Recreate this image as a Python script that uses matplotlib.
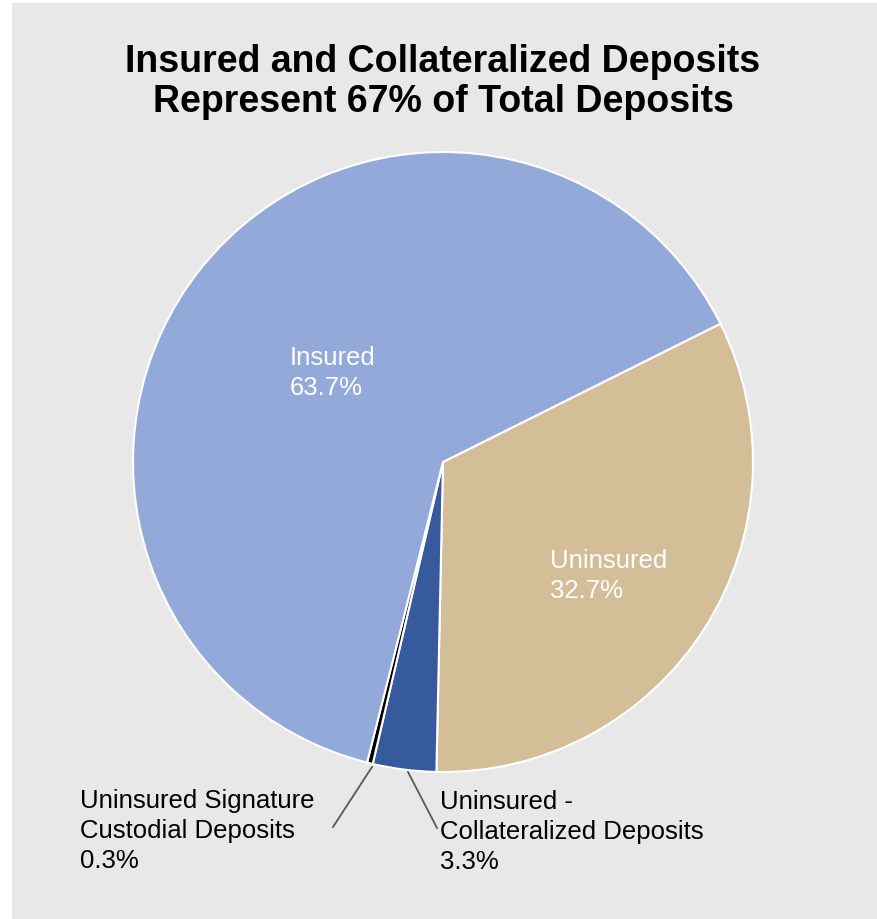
import numpy as np
import matplotlib.pyplot as plt
from matplotlib.patches import Rectangle

plt.rcParams['font.family'] = ['Liberation Sans', 'DejaVu Sans']

# slices, clockwise from the top-right boundary
names = ["Uninsured", "Uninsured -\nCollateralized Deposits",
         "Uninsured Signature\nCustodial Deposits", "Insured"]
shares = [32.7, 3.3, 0.3, 63.7]
colors = ['#d3be97', '#37599d', '#000000', '#93a9d9']

title = "Insured and Collateralized Deposits\nRepresent 67% of Total Deposits"

fig = plt.figure(figsize=(8.77, 9.20), dpi=100)
fig.patches.append(Rectangle((12 / 877, 0), 1, 1 - 4 / 920, transform=fig.transFigure,
                             facecolor='#e8e8e8', edgecolor='none', zorder=-10))

ax = fig.add_axes([0, 0, 1, 1])
ax.patch.set_alpha(0)

H = 920
cx, cy, r = 443, H - 463, 310
wedges, _ = ax.pie(shares, colors=colors, startangle=26.5, counterclock=False,
                   center=(cx, cy), radius=r, frame=True,
                   wedgeprops=dict(edgecolor='white', linewidth=1.5))
ax.set_xlim(0, 877)
ax.set_ylim(0, 920)
ax.set_aspect('equal')
ax.axis('off')

fs = 18.5
ls = 1.34
ax.text(290, H - 373, "Insured\n%.1f%%" % shares[3], color='white', fontsize=fs,
        ha='left', va='center', linespacing=ls)
ax.text(550, H - 576, "Uninsured\n%.1f%%" % shares[0], color='white', fontsize=fs,
        ha='left', va='center', linespacing=ls)
ax.text(80, H - 831, names[2] + "\n%.1f%%" % shares[2], color='black', fontsize=fs,
        ha='left', va='center', linespacing=ls)
ax.text(440, H - 832, names[1] + "\n%.1f%%" % shares[1], color='black', fontsize=fs,
        ha='left', va='center', linespacing=ls)

# leader lines
ax.plot([372, 333], [H - 768, H - 828], color='#595959', lw=1.3)
ax.plot([408, 437], [H - 773, H - 829], color='#595959', lw=1.3)

fig.text(443 / 877, 1 - 82 / 920, title, ha='center', va='center', fontsize=27,
         fontweight='bold', linespacing=1.12)

fig.savefig('out.png', dpi=100)
